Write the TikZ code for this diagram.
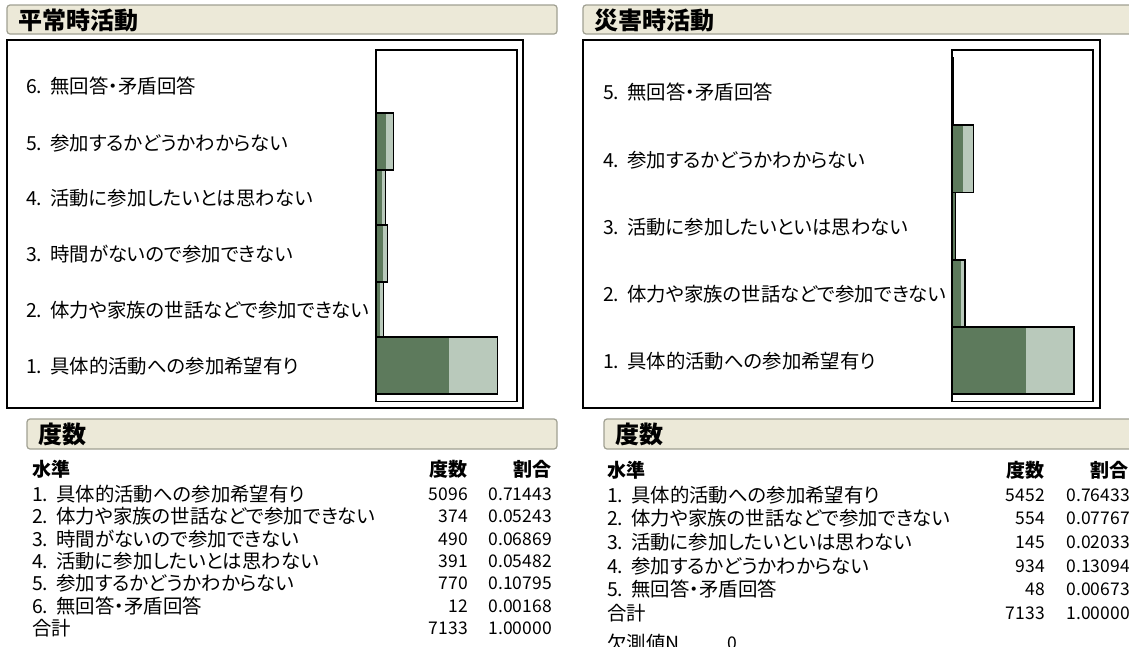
\documentclass[tikz,border=0pt]{standalone}
\usepackage{fontspec}
\setmainfont{Noto Sans CJK JP}[RawFeature=+palt]
\definecolor{hdrfill}{RGB}{236,233,216}
\definecolor{hdrline}{RGB}{160,160,146}
\definecolor{bardark}{RGB}{93,122,92}
\definecolor{barlight}{RGB}{185,201,187}
\newcommand\drawbar[5]{%
  \fill[bardark] (#3,#1) rectangle (#4,#2);
  \fill[barlight] (#4,#1) rectangle (#5,#2);
  \draw[barline] (#3,#1) rectangle (#5,#2);}
\newcommand\pfx[1]{#1\hspace{8pt}}
\tikzset{
  hdr/.style={draw=hdrline, fill=hdrfill, line width=1.2pt, rounded corners=3pt},
  outerbox/.style={draw=black, line width=1.2pt},
  pframe/.style={draw=black, line width=1.4pt},
  barline/.style={draw=black, line width=1.2pt},
  ttl/.style={anchor=west, inner sep=0pt, font=\fontsize{24}{24}\selectfont\bfseries},
  lbl/.style={anchor=west, inner sep=0pt, font=\fontsize{19.4}{19.4}\selectfont},
  colh/.style={anchor=west, inner sep=0pt, font=\fontsize{19}{19}\selectfont\bfseries},
  colhr/.style={anchor=east, inner sep=0pt, font=\fontsize{19}{19}\selectfont\bfseries},
  num/.style={anchor=east, inner sep=0pt, font=\fontsize{17.5}{17.5}\selectfont},
}
\begin{document}
\begin{tikzpicture}[x=1pt,y=-1pt]
\useasboundingbox (0,0) rectangle (1129,646);
\clip (0,0) rectangle (1129,646);
\fill[white] (0,0) rectangle (1129,646);

% ================= LEFT PANEL =================
\draw[hdr] (7,5) rectangle (557,34);
\node[ttl] (lt) at (18,20) {平常時活動};
\draw[outerbox] (7,40) rectangle (523,408);
\draw[pframe] (376,50) rectangle (517,401.5);
\drawbar{56}{113}{376}{376.2}{376.3}
\drawbar{113}{170}{376}{385.5}{393.5}
\drawbar{170}{225}{376}{382}{385.5}
\drawbar{225}{282}{376}{383}{387.5}
\drawbar{282}{337}{376}{380}{383.5}
\drawbar{337}{394}{376}{449}{497.5}
\node[lbl] (l6) at (26,86) {\pfx{6.}無回答・矛盾回答};
\node[lbl] (l5) at (26,143) {\pfx{5.}参加するかどうかわからない};
\node[lbl] (l4) at (26,198.5) {\pfx{4.}活動に参加したいとは思わない};
\node[lbl] (l3) at (26,254.5) {\pfx{3.}時間がないので参加できない};
\node[lbl] (l2) at (26,310.5) {\pfx{2.}体力や家族の世話などで参加できない};
\node[lbl] (l1) at (26,366.5) {\pfx{1.}具体的活動への参加希望有り};

\draw[hdr] (27,419) rectangle (557,449);
\node[ttl] (lft) at (38,434) {度数};
\node[colh] (lh1) at (32,469) {水準};
\node[colhr] (lh2) at (468,469) {度数};
\node[colhr] (lh3) at (552,469) {割合};
\node[lbl] (lr1) at (32,494) {\pfx{1.}具体的活動への参加希望有り};
\node[lbl] (lr2) at (32,516.4) {\pfx{2.}体力や家族の世話などで参加できない};
\node[lbl] (lr3) at (32,538.8) {\pfx{3.}時間がないので参加できない};
\node[lbl] (lr4) at (32,561.2) {\pfx{4.}活動に参加したいとは思わない};
\node[lbl] (lr5) at (32,583.6) {\pfx{5.}参加するかどうかわからない};
\node[lbl] (lr6) at (32,606) {\pfx{6.}無回答・矛盾回答};
\node[lbl] (lr7) at (32,628.4) {合計};
\node[num] (ln1) at (468,494) {5096};
\node[num] (ln2) at (468,516.4) {374};
\node[num] (ln3) at (468,538.8) {490};
\node[num] (ln4) at (468,561.2) {391};
\node[num] (ln5) at (468,583.6) {770};
\node[num] (ln6) at (468,606) {12};
\node[num] (ln7) at (468,628.4) {7133};
\node[num] (lp1) at (552,494) {0.71443};
\node[num] (lp2) at (552,516.4) {0.05243};
\node[num] (lp3) at (552,538.8) {0.06869};
\node[num] (lp4) at (552,561.2) {0.05482};
\node[num] (lp5) at (552,583.6) {0.10795};
\node[num] (lp6) at (552,606) {0.00168};
\node[num] (lp7) at (552,628.4) {1.00000};

% ================= RIGHT PANEL =================
\draw[hdr] (583,5) rectangle (1145,34);
\node[ttl] (rt) at (594,20) {災害時活動};
\draw[outerbox] (583,40) rectangle (1100,408);
\draw[pframe] (952,50) rectangle (1093,401.7);
\drawbar{58}{125}{952}{952.6}{953.2}
\drawbar{125}{192.7}{952}{963.3}{973.3}
\drawbar{192.7}{260}{952}{954.5}{955.7}
\drawbar{260}{327}{952}{961}{965}
\drawbar{327}{394}{952}{1026}{1074}
\node[lbl] (r5) at (603,92.5) {\pfx{5.}無回答・矛盾回答};
\node[lbl] (r4) at (603,160) {\pfx{4.}参加するかどうかわからない};
\node[lbl] (r3) at (603,227.5) {\pfx{3.}活動に参加したいといは思わない};
\node[lbl] (r2) at (603,294.5) {\pfx{2.}体力や家族の世話などで参加できない};
\node[lbl] (r1) at (603,361.5) {\pfx{1.}具体的活動への参加希望有り};

\draw[hdr] (604,419) rectangle (1145,449);
\node[ttl] (rft) at (615,434) {度数};
\node[colh] (rh1) at (607,470) {水準};
\node[colhr] (rh2) at (1045,470) {度数};
\node[colhr] (rh3) at (1129,470) {割合};
\node[lbl] (rr1) at (607,495) {\pfx{1.}具体的活動への参加希望有り};
\node[lbl] (rr2) at (607,518.6) {\pfx{2.}体力や家族の世話などで参加できない};
\node[lbl] (rr3) at (607,542.2) {\pfx{3.}活動に参加したいといは思わない};
\node[lbl] (rr4) at (607,565.8) {\pfx{4.}参加するかどうかわからない};
\node[lbl] (rr5) at (607,589.4) {\pfx{5.}無回答・矛盾回答};
\node[lbl] (rr6) at (607,613) {合計};
\node[lbl] (rr7) at (607,643) {欠測値N};
\node[num] (rn1) at (1045,495) {5452};
\node[num] (rn2) at (1045,518.6) {554};
\node[num] (rn3) at (1045,542.2) {145};
\node[num] (rn4) at (1045,565.8) {934};
\node[num] (rn5) at (1045,589.4) {48};
\node[num] (rn6) at (1045,613) {7133};
\node[num] (rn7) at (737,643) {0};
\node[num] (rp1) at (1130,495) {0.76433};
\node[num] (rp2) at (1130,518.6) {0.07767};
\node[num] (rp3) at (1130,542.2) {0.02033};
\node[num] (rp4) at (1130,565.8) {0.13094};
\node[num] (rp5) at (1130,589.4) {0.00673};
\node[num] (rp6) at (1130,613) {1.00000};
\end{tikzpicture}
\end{document}
